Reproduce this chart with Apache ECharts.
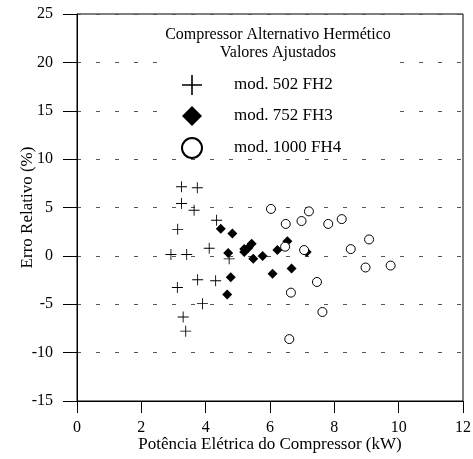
<!DOCTYPE html>
<html>
<head>
<meta charset="utf-8">
<script src="https://cdn.jsdelivr.net/npm/echarts@6/dist/echarts.min.js"></script>
<style>
  html, body { margin: 0; padding: 0; background: #fff; }
  #chart { width: 473px; height: 459px; }
</style>
</head>
<body>
<div id="chart"></div>
<script>
  // mod. 502 FH2
  var fh2X = [3.25, 3.74, 3.25, 3.64, 4.34, 3.13, 2.92, 3.41, 4.11, 4.73, 3.12, 3.75, 4.31, 3.90, 3.30, 3.38];
  var fh2Y = [7.15, 7.04, 5.42, 4.72, 3.68, 2.74, 0.14, 0.14, 0.79, -0.31, -3.27, -2.47, -2.57, -4.94, -6.32, -7.78];
  // mod. 752 FH3
  var fh3X = [4.47, 4.83, 4.70, 4.78, 4.67, 5.20, 5.43, 5.33, 5.20, 5.48, 5.77, 6.08, 6.23, 6.54, 6.67, 7.14];
  var fh3Y = [2.8, 2.3, 0.3, -2.2, -4.0, 0.7, 1.25, 0.85, 0.4, -0.3, 0.0, -1.85, 0.6, 1.5, -1.3, 0.4];
  // mod. 1000 FH4
  var fh4X = [6.03, 7.21, 6.98, 6.49, 7.81, 8.23, 9.08, 8.51, 6.47, 7.06, 8.97, 9.75, 7.46, 6.65, 7.63, 6.60];
  var fh4Y = [4.85, 4.6, 3.6, 3.3, 3.3, 3.8, 1.7, 0.7, 0.95, 0.6, -1.2, -1.0, -2.7, -3.8, -5.8, -8.6];

  var seriesNames = ['mod. 502 FH2', 'mod. 752 FH3', 'mod. 1000 FH4'];
  var xTicks = [0, 12, 2];   // min, max, step
  var yTicks = [-15, 25, 5];

  function pairs(xs, ys) {
    return xs.map(function (x, i) { return [x, ys[i]]; });
  }

  var serif = '"Liberation Serif", "Times New Roman", serif';
  var plusPath = 'path://M4.6,0H5.4V4.6H10V5.4H5.4V10H4.6V5.4H0V4.6H4.6Z';

  var chart = echarts.init(document.getElementById('chart'));
  var option = {
    backgroundColor: '#fff',
    animation: false,
    // white box behind title + legend (hides the dashed grid there)
    graphic: [{
      type: 'rect',
      z: 1,
      silent: true,
      shape: { x: 163, y: 16, width: 229, height: 138 },
      style: { fill: '#fff' }
    }],
    title: {
      text: 'Compressor Alternativo Hermético\nValores Ajustados',
      left: 273,
      top: 21,
      textAlign: 'center',
      textStyle: {
        fontFamily: serif,
        fontWeight: 'normal',
        fontSize: 16,
        lineHeight: 18,
        color: '#000'
      }
    },
    legend: {
      orient: 'vertical',
      left: 181,
      top: 75,
      padding: 0,
      itemWidth: 20,
      itemHeight: 20,
      itemGap: 11,
      data: seriesNames,
      textStyle: {
        fontFamily: serif,
        fontSize: 17,
        color: '#000',
        padding: [0, 0, 0, 27]
      }
    },
    grid: {
      left: 77,
      right: 10,
      top: 14,
      bottom: 58,
      outerBoundsMode: 'none',
      show: true,
      borderColor: '#000',
      borderWidth: 1,
      backgroundColor: 'transparent'
    },
    xAxis: {
      type: 'value',
      min: xTicks[0],
      max: xTicks[1],
      interval: xTicks[2],
      name: 'Potência Elétrica do Compressor (kW)',
      nameLocation: 'middle',
      nameGap: 35,
      nameMoveOverlap: false,
      nameTextStyle: { fontFamily: serif, fontSize: 17, color: '#000' },
      axisLine: { onZero: false, lineStyle: { color: '#000', width: 1 } },
      axisTick: { length: 12, lineStyle: { color: '#000' } },
      axisLabel: { margin: 19, fontFamily: serif, fontSize: 16, color: '#000' },
      splitLine: { show: false }
    },
    yAxis: {
      type: 'value',
      min: yTicks[0],
      max: yTicks[1],
      interval: yTicks[2],
      name: 'Erro Relativo (%)',
      nameLocation: 'middle',
      nameGap: 41,
      nameMoveOverlap: false,
      nameTextStyle: { fontFamily: serif, fontSize: 17, color: '#000' },
      axisLine: { onZero: false, lineStyle: { color: '#000', width: 1 } },
      axisTick: { length: 14, lineStyle: { color: '#000' } },
      axisLabel: { margin: 24, fontFamily: serif, fontSize: 16, color: '#000' },
      splitLine: { show: true, lineStyle: { color: '#555', width: 1, type: [4, 15] } }
    },
    series: [
      {
        name: seriesNames[0],
        type: 'scatter',
        symbol: plusPath,
        symbolSize: 11,
        itemStyle: { color: '#000', opacity: 1 },
        data: pairs(fh2X, fh2Y)
      },
      {
        name: seriesNames[1],
        type: 'scatter',
        symbol: 'diamond',
        symbolSize: 10,
        itemStyle: { color: '#000', opacity: 1 },
        data: pairs(fh3X, fh3Y)
      },
      {
        name: seriesNames[2],
        type: 'scatter',
        symbol: 'circle',
        symbolSize: 9,
        itemStyle: { color: '#fff', borderColor: '#000', borderWidth: 1, opacity: 1 },
        data: pairs(fh4X, fh4Y)
      }
    ]
  };
  chart.setOption(option);
</script>
</body>
</html>
